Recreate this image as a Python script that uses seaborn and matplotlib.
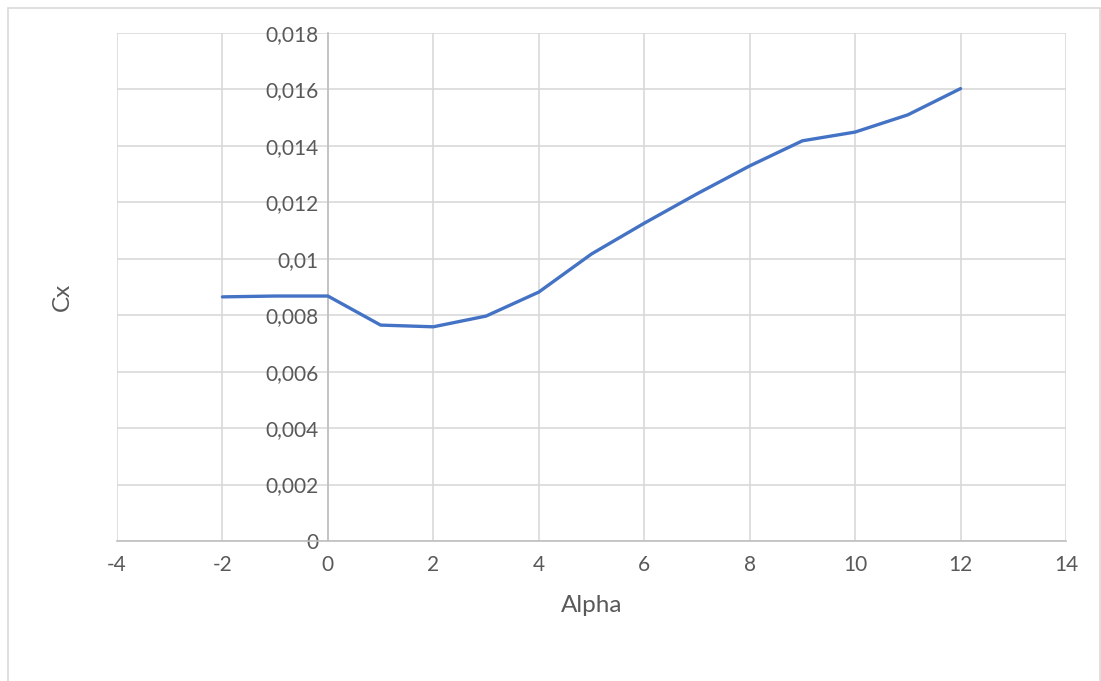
import matplotlib
matplotlib.use("Agg")
import matplotlib.pyplot as plt
import seaborn as sns
import pandas as pd
from matplotlib.patches import Rectangle

alpha = [-2, -1, 0, 1, 2, 3, 4, 5, 6, 7, 8, 9, 10, 11, 12]
cx = [0.00865, 0.00868, 0.00868, 0.00765, 0.00759, 0.00797, 0.00882, 0.01017,
      0.01126, 0.0123, 0.01329, 0.01418, 0.01449, 0.0151, 0.01603]
x_ticks = [-4, -2, 0, 2, 4, 6, 8, 10, 12, 14]
y_ticks = [0, 0.002, 0.004, 0.006, 0.008, 0.01, 0.012, 0.014, 0.016, 0.018]
y_tick_labels = ["0", "0,002", "0,004", "0,006", "0,008", "0,01", "0,012", "0,014", "0,016", "0,018"]

df = pd.DataFrame({"Alpha": alpha, "Cx": cx})

sns.set_style("white")
plt.rcParams["font.family"] = ["Lato", "DejaVu Sans"]
text_col = "#595959"

fig = plt.figure(figsize=(11.01, 6.81), dpi=100)
ax = fig.add_axes([117 / 1101, 1 - 541 / 681, (1066 - 117) / 1101, (541 - 33) / 681])

# outer chart border
fig.patches.append(Rectangle((7.5 / 1101, -0.05), (1100 - 7.5) / 1101, 1 - 8 / 681 + 0.05,
                             transform=fig.transFigure, fill=False,
                             edgecolor="#d9d9d9", linewidth=1.2))

sns.lineplot(data=df, x="Alpha", y="Cx", ax=ax, color="#4472C4", linewidth=2.4)

ax.set_xlim(-4, 14)
ax.set_ylim(0, 0.018)
ax.set_xticks(x_ticks)
ax.set_xticklabels([str(t) for t in x_ticks])
ax.set_yticks(y_ticks)
ax.set_yticklabels(y_tick_labels)
ax.grid(True, color="#d9d9d9", linewidth=1.2)
ax.set_axisbelow(True)

for s in ["top", "right"]:
    ax.spines[s].set_visible(False)
ax.spines["left"].set_position(("data", 0))
ax.spines["left"].set_color("#bfbfbf")
ax.spines["left"].set_linewidth(1.2)
ax.spines["bottom"].set_color("#bfbfbf")
ax.spines["bottom"].set_linewidth(1.2)
ax.spines["left"].set_zorder(1)
ax.spines["bottom"].set_zorder(1)

ax.tick_params(axis="both", length=0, labelsize=15, colors=text_col)
ax.tick_params(axis="y", pad=7)
ax.tick_params(axis="x", pad=10)

ax.set_xlabel("")
ax.set_ylabel("")
fig.text(592 / 1101, 1 - 606 / 681, "Alpha", ha="center", va="center", fontsize=17.5, color=text_col)
fig.text(62 / 1101, 1 - 297 / 681, "Cx", ha="center", va="center", rotation=90, fontsize=17.5, color=text_col)

fig.savefig("out.png", dpi=100)
